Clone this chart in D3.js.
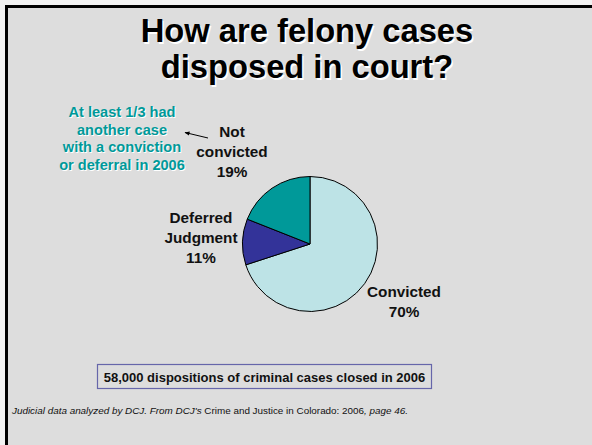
<!DOCTYPE html>
<html>
<head>
<meta charset="utf-8">
<script src="https://cdn.jsdelivr.net/npm/d3@7"></script>
<style>
  body { margin: 0; background: #f2f2f2; }
  svg { display: block; }
  text { font-family: "Liberation Sans", Arial, sans-serif; }
</style>
</head>
<body>
<svg id="chart" width="592" height="445"></svg>
<script>
// data
const categories = ['Convicted', 'Deferred Judgment', 'Not convicted'];
const shares = [70, 11, 19];
const sliceColors = ['#bde3e6', '#333399', '#009999'];
const titleLines = ['How are felony cases', 'disposed in court?'];
const noteLines = ['At least 1/3 had', 'another case', 'with a conviction', 'or deferral in 2006'];
const boxText = '58,000 dispositions of criminal cases closed in 2006';

const data = categories.map((c, i) => ({ name: c, value: shares[i] }));

const svg = d3.select('#chart');
const width = 592, height = 445;

// slide frame
svg.append('rect')
  .attr('x', 8).attr('y', 8)
  .attr('width', width - 8).attr('height', height - 8)
  .style('fill', '#dddddd');
svg.append('path')
  .attr('d', `M6.5,${height} V6.5 H${width}`)
  .style('fill', 'none')
  .style('stroke', 'black')
  .style('stroke-width', 3);

// title with light shadow
const title = svg.append('g');
titleLines.forEach((t, i) => {
  [['white', 1.5], ['black', 0]].forEach(([col, off]) => {
    title.append('text')
      .attr('x', 307 + off)
      .attr('y', 42 + i * 36 + off)
      .attr('text-anchor', 'middle')
      .style('font-size', '32.7px')
      .style('font-weight', 'bold')
      .style('fill', col)
      .text(t);
  });
});

// pie
const cx = 310, cy = 244, r = 67.5;
const pie = d3.pie().sort(null).value(d => d.value);
const arc = d3.arc().innerRadius(0).outerRadius(r);

const pieG = svg.append('g').attr('transform', `translate(${cx},${cy})`);
pieG.selectAll('path')
  .data(pie(data))
  .enter().append('path')
  .attr('d', arc)
  .style('fill', (d, i) => sliceColors[i])
  .style('stroke', 'black')
  .style('stroke-width', 1);

// slice labels
const labelSpots = [
  { x: 404, y: 297, lines: ['Convicted'] },
  { x: 201, y: 223, lines: ['Deferred', 'Judgment'] },
  { x: 232, y: 137, lines: ['Not', 'convicted'] },
];
labelSpots.forEach((s, k) => {
  const lines = s.lines.concat([shares[k] + '%']);
  lines.forEach((t, i) => {
    svg.append('text')
      .attr('x', s.x)
      .attr('y', s.y + i * 20)
      .attr('text-anchor', 'middle')
      .style('font-size', '15.3px')
      .style('font-weight', 'bold')
      .style('fill', '#111')
      .text(t);
  });
});

// teal note
noteLines.forEach((t, i) => {
  [['white', 1], ['#009999', 0]].forEach(([col, off]) => {
    svg.append('text')
      .attr('x', 122 + off)
      .attr('y', 117 + i * 17.5 + off)
      .attr('text-anchor', 'middle')
      .style('font-size', '14.6px')
      .style('font-weight', 'bold')
      .style('fill', col)
      .text(t);
  });
});

// arrow from label to note
svg.append('defs').append('marker')
  .attr('id', 'head')
  .attr('viewBox', '0 0 10 10')
  .attr('refX', 9).attr('refY', 5)
  .attr('markerWidth', 7).attr('markerHeight', 5)
  .attr('orient', 'auto')
  .append('path')
  .attr('d', 'M0,1 L10,5 L0,9 Z')
  .style('fill', 'black');
svg.append('line')
  .attr('x1', 208).attr('y1', 138)
  .attr('x2', 185).attr('y2', 132.5)
  .style('stroke', 'black')
  .style('stroke-width', 1)
  .attr('marker-end', 'url(#head)');

// boxed caption
svg.append('rect')
  .attr('x', 97.5).attr('y', 364.5)
  .attr('width', 334).attr('height', 24)
  .style('fill', 'none')
  .style('stroke', '#6666aa')
  .style('stroke-width', 1.2);
svg.append('text')
  .attr('x', 264.5)
  .attr('y', 382)
  .attr('text-anchor', 'middle')
  .style('font-size', '13px')
  .style('font-weight', 'bold')
  .style('fill', '#111')
  .text(boxText);

// source line
const src = svg.append('text')
  .attr('x', 12)
  .attr('y', 414)
  .style('font-size', '9.9px')
  .style('fill', '#111');
src.append('tspan').style('font-style', 'italic').text("Judicial data analyzed by DCJ. From DCJ's ");
src.append('tspan').text('Crime and Justice in Colorado: 2006');
src.append('tspan').style('font-style', 'italic').text(', page 46.');
</script>
</body>
</html>
